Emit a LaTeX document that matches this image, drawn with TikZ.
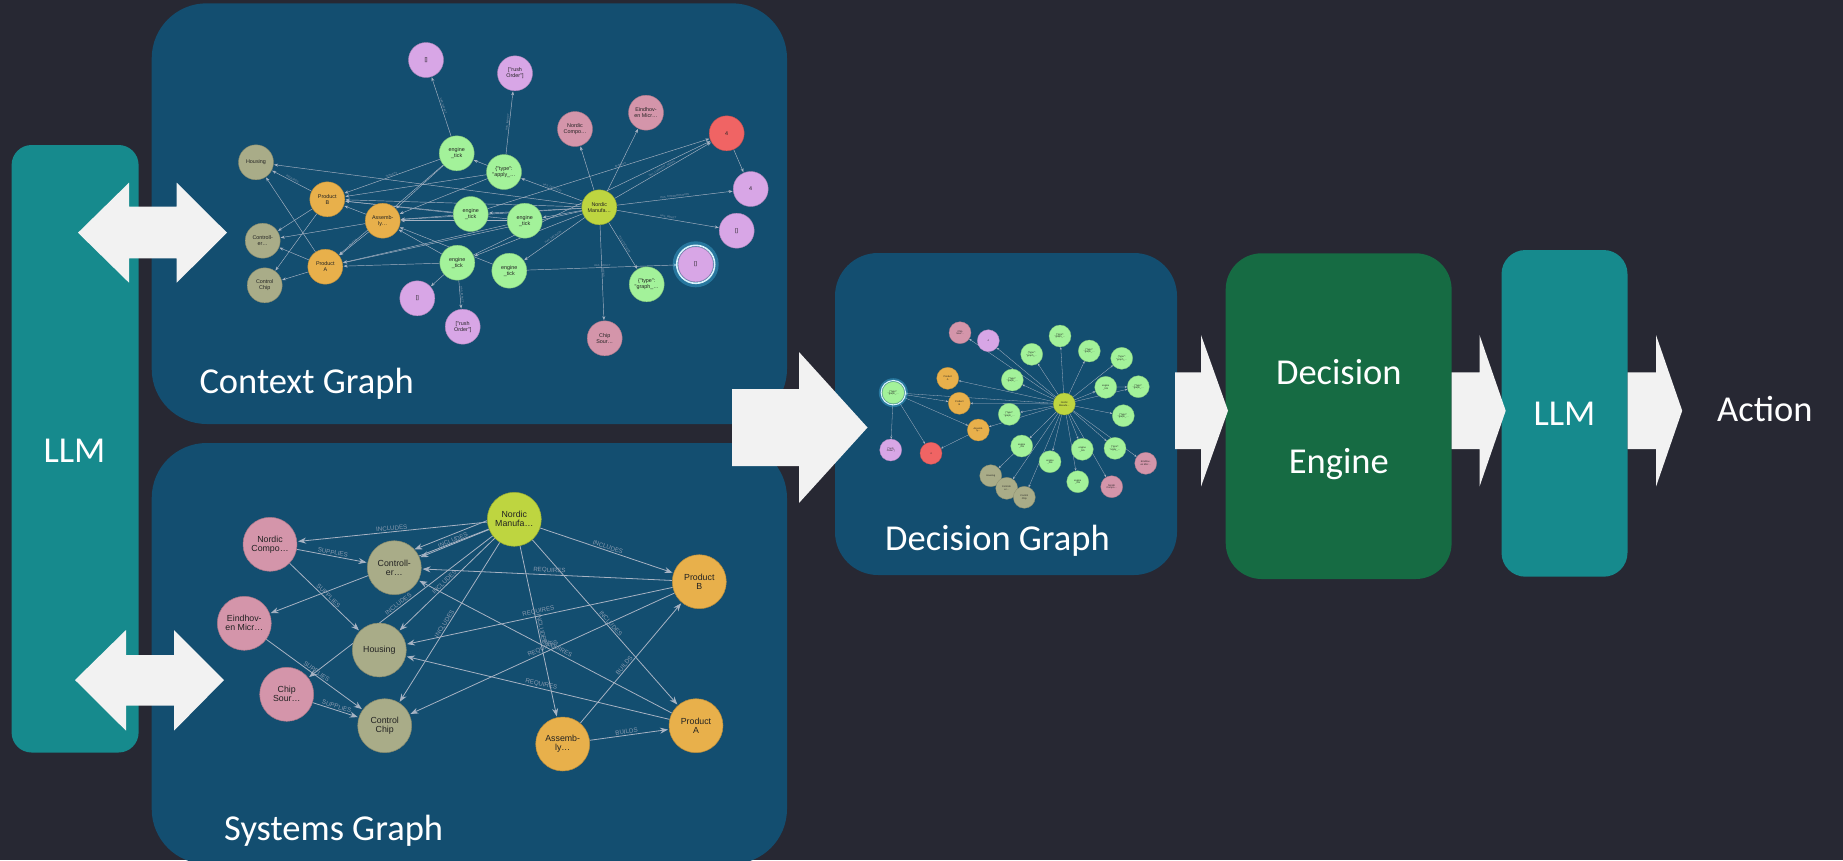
\documentclass[tikz,border=0pt]{standalone}
\usepackage{fontspec}
\setmainfont{Carlito}
\newfontfamily\nodefont{Liberation Sans}
\usetikzlibrary{arrows.meta}
\definecolor{bgc}{HTML}{272833}
\definecolor{panelc}{HTML}{134E70}
\definecolor{tealc}{HTML}{168A8D}
\definecolor{degreen}{HTML}{166B43}
\definecolor{arrowc}{HTML}{F2F2F2}
\definecolor{edgec}{HTML}{A7B3C3}
\definecolor{labc}{HTML}{8A9BB0}
\definecolor{cgreen}{HTML}{A3F29A}
\definecolor{cpurple}{HTML}{D8A6E6}
\definecolor{cpink}{HTML}{D495AA}
\definecolor{colive}{HTML}{A9AC88}
\definecolor{corange}{HTML}{E8B04B}
\definecolor{cyellow}{HTML}{BED540}
\definecolor{cred}{HTML}{F06464}
\definecolor{nodetext}{HTML}{222222}
\pgfdeclarelayer{bg}
\pgfdeclarelayer{edges}
\pgfsetlayers{bg,edges,main}
\begin{document}
\begin{tikzpicture}[x=1pt,y=-1pt,
  cn/.style={circle, minimum size=35pt, inner sep=0pt, align=center,
    font=\nodefont\fontsize{5.4}{5.8}\selectfont, text=nodetext,
    fill=#1, draw=#1!80!black, line width=0.4pt},
  sn/.style={circle, minimum size=54pt, inner sep=0pt, align=center,
    font=\nodefont\fontsize{8.8}{9}\selectfont, text=nodetext,
    fill=#1, draw=#1!80!black, line width=0.5pt},
  dn/.style={circle, minimum size=22pt, inner sep=0pt, align=center,
    font=\nodefont\fontsize{2.4}{2.6}\selectfont, text=nodetext,
    fill=#1, draw=#1!80!black, line width=0.3pt},
  ce/.style={draw=edgec, line width=0.45pt, -{Stealth[length=4pt,width=3pt]}, shorten >=0.5pt},
  se/.style={draw=edgec, line width=0.8pt, -{Stealth[length=8pt,width=6pt]}, shorten >=1pt},
  de/.style={draw=edgec, line width=0.3pt, -{Stealth[length=2.5pt,width=2pt]}},
  elab/.style={font=\nodefont\fontsize{6.2}{6.2}\selectfont, text=labc, sloped, above, inner sep=1pt},
  clab/.style={font=\nodefont\fontsize{2.6}{2.6}\selectfont, text=labc, sloped, above, inner sep=0.4pt},
  bigtext/.style={font=\fontsize{36.5}{40}\selectfont, text=white, inner sep=0pt},
  blockarrow/.style={fill=arrowc, draw=none}
]
\useasboundingbox (0,0) rectangle (1843,860);
\begin{pgfonlayer}{bg}
\fill[bgc] (0,0) rectangle (1843,860);
\fill[tealc, rounded corners=20pt] (11.6,145) rectangle (138.6,752.5);
\fill[panelc, rounded corners=55pt] (151.7,3.3) rectangle (787,424);
\fill[panelc, rounded corners=55pt] (151.7,443) rectangle (787,864);
\fill[panelc, rounded corners=43pt] (835,253) rectangle (1177,575);
\fill[degreen, rounded corners=36pt] (1225.7,253.3) rectangle (1451.6,579);
\fill[tealc, rounded corners=24pt] (1501.5,250) rectangle (1627.5,576.7);
\end{pgfonlayer}

% ---------------- Context graph nodes ----------------
\node[cn=cpurple] (cTop) at (426,60) {[]};
\node[cn=cpurple] (cRushT) at (515,73.3) {["rush\\Order"]};
\node[cn=colive] (cHous) at (256,162.3) {Housing};
\node[cn=corange] (cPB) at (327.3,199.3) {Product\\B};
\node[cn=corange] (cAsm) at (382.7,220.7) {Assemb-\\ly…};
\node[cn=colive] (cCtrl) at (262.7,240.7) {Controll-\\er…};
\node[cn=corange] (cPA) at (325.3,266.7) {Product\\A};
\node[cn=colive] (cChip) at (264.7,285.3) {Control\\Chip};
\node[cn=cgreen] (cE1) at (456.7,153.3) {engine\\\_tick};
\node[cn=cgreen] (cApply) at (504,172) {\{"type":\\"apply\_…};
\node[cn=cgreen] (cE2) at (470.7,214) {engine\\\_tick};
\node[cn=cgreen] (cE3) at (524.7,220.7) {engine\\\_tick};
\node[cn=cgreen] (cE4) at (457.3,262.7) {engine\\\_tick};
\node[cn=cgreen] (cE5) at (509.3,270.7) {engine\\\_tick};
\node[cn=cpurple] (cEmpB) at (417.3,298.3) {[]};
\node[cn=cpurple] (cRushB) at (462.7,326.7) {["rush\\Order"]};
\node[cn=cpink] (cNC) at (575,129) {Nordic\\Compo…};
\node[cn=cpink] (cEM) at (646,112.7) {Eindhov-\\en Micr…};
\node[cn=cred] (cRed) at (726.7,133.3) {4};
\node[cn=cpurple] (cP4) at (750.7,189) {4};
\node[cn=cpurple] (cEmpR) at (736.7,230.7) {[]};
\fill[cyan!70!white, opacity=0.35] (695.7,264.3) circle (23);
\draw[white!85!cyan, line width=1.6pt] (695.7,264.3) circle (19);
\node[cn=cpurple] (cEmpG) at (695.7,264.3) {[]};
\node[cn=cyellow] (cNM) at (599.3,207.3) {Nordic\\Manufa…};
\node[cn=cgreen] (cGraph) at (646.7,284.3) {\{"type":\\"graph\_…};
\node[cn=cpink] (cCS) at (604.7,338.3) {Chip\\Sour…};

\begin{pgfonlayer}{edges}
\foreach \a/\b in {cPA/cHous, cNM/cHous, cPB/cCtrl, cPB/cChip, cPA/cCtrl, cPA/cChip,
  cAsm/cCtrl, cAsm/cPB, cE1/cAsm, cApply/cE1, cApply/cPB, cApply/cAsm,
  cE2/cPB, cE2/cAsm, cE3/cPB, cE3/cAsm, cE3/cPA, cE4/cPA, cE4/cAsm, cE4/cEmpB,
  cNM/cE4, cE5/cAsm, cNM/cE3, cNM/cE2, cNM/cNC, cNM/cEM, cRed/cP4, cE4/cRed,
  cNM/cPB, cNM/cAsm, cNM/cPA, cE1/cPA}
  \draw[ce] (\a) -- (\b);
\draw[ce] (cPB) -- node[clab]{REQUIRES} (cHous);
\draw[ce] (cAsm) -- node[clab]{BUILDS} (cPA);
\draw[ce] (cE1) -- node[clab]{TARGETS} (cPB);
\draw[ce] (cE1) -- node[clab]{HAS\_IMPACT} (cTop);
\draw[ce] (cApply) -- node[clab]{HAS\_IMPACT} (cRushT);
\draw[ce] (cE4) -- node[clab]{HAS\_IMPACT} (cRushB);
\draw[ce] (cE2) -- node[clab,pos=.6]{AFFECTS} (cRed);
\draw[ce] (cNM) -- node[clab]{HAS\_DECISION} (cApply);
\draw[ce] (cNM) -- node[clab]{HAS\_DECISION} (cE5);
\draw[ce] (cE5) -- node[clab]{HAS\_IMPACT} (cEmpG);
\draw[ce] (cNM) -- node[clab]{HAS\_CURRENT\_SIGNAL} (cRed);
\draw[ce] (cNM) -- node[clab]{HAS\_INTERPRETATION} (cP4);
\draw[ce] (cNM) -- node[clab]{HAS\_IMPACT} (cEmpR);
\draw[ce] (cNM) -- node[clab]{HAS\_DECISION} (cGraph);
\draw[ce] (cNM) -- node[clab]{OWNS} (cCS);
\end{pgfonlayer}

% ---------------- Systems graph ----------------
\node[sn=cpink] (sNC) at (270,544.3) {Nordic\\Compo…};
\node[sn=colive] (sCtrl) at (394.3,567.7) {Controll-\\er…};
\node[sn=cpink] (sEM) at (244.3,623.3) {Eindhov-\\en Micr…};
\node[sn=colive] (sHous) at (379.3,650) {Housing};
\node[sn=cpink] (sCS) at (286.7,694.3) {Chip\\Sour…};
\node[sn=colive] (sChip) at (384.7,725.7) {Control\\Chip};
\node[sn=cyellow] (sNM) at (514.3,519.3) {Nordic\\Manufa…};
\node[sn=corange] (sPB) at (699.3,581.7) {Product\\B};
\node[sn=corange] (sPA) at (696,725.7) {Product\\A};
\node[sn=corange] (sAsm) at (562.7,744) {Assemb-\\ly…};

\begin{pgfonlayer}{edges}
\draw[se] (sNM) -- node[elab]{INCLUDES} (sNC);
\draw[se] ([yshift=-1.3pt]sNM.west) -- ([yshift=-1.3pt]sCtrl.north east);
\draw[se] (sNM) -- node[elab,pos=.5]{INCLUDES} (sCtrl);
\draw[se] (sNM) -- (sEM);
\draw[se] (sNM) -- node[elab,pos=.5]{INCLUDES} (sHous);
\draw[se] (sNM) -- node[elab,pos=.5]{INCLUDES} (sCS);
\draw[se] (sNM) -- node[elab,pos=.52]{INCLUDES} (sChip);
\draw[se] (sNM) -- node[elab,pos=.5]{INCLUDES} (sPB);
\draw[se] (sNM) -- node[elab,pos=.52]{INCLUDES} (sPA);
\draw[se] (sNM) -- node[elab,pos=.49]{INCLUDES} (sAsm);
\draw[se] (sNC) -- node[elab,pos=.5]{SUPPLIES} (sCtrl);
\draw[se] (sNC) -- node[elab,pos=.52]{SUPPLIES} (sHous);
\draw[se] (sEM) -- node[elab,pos=.5]{SUPPLIES} (sChip);
\draw[se] (sCS) -- node[elab,pos=.5]{SUPPLIES} (sChip);
\draw[se] (sPB) -- node[elab,pos=.49]{REQUIRES} (sCtrl);
\draw[se] (sPB) -- node[elab,pos=.5]{REQUIRES} (sHous);
\draw[se] (sPB) -- node[elab,pos=.49]{REQUIRES} (sChip);
\draw[se] (sPA) -- node[elab,pos=.46]{REQUIRES} (sCtrl);
\draw[se] (sPA) -- node[elab,pos=.49]{REQUIRES} (sHous);
\draw[se] (sAsm) -- node[elab,pos=.46]{BUILDS} (sPB);
\draw[se] (sAsm) -- node[elab,pos=.47]{BUILDS} (sPA);
\end{pgfonlayer}

% ---------------- Decision graph ----------------
\fill[cyan!70!white, opacity=0.35] (893.3,392.7) circle (14.5);
\draw[white!85!cyan, line width=1.1pt] (893.3,392.7) circle (12.2);
\node[dn=cgreen] (dHi) at (893.3,392.7) {\{"type":\\"graph\_…};
\node[dn=cpurple] (dRush) at (890.7,450) {["rush\\Order"]};
\node[dn=cred] (dRed) at (931,453.3) {4};
\node[dn=corange] (dPA) at (947.7,378.3) {Product\\A};
\node[dn=corange] (dPB) at (959.3,403.3) {Product\\B};
\node[dn=corange] (dAsm) at (978.3,430) {Assemb-\\ly…};
\node[dn=cpink] (dCS) at (960,332.7) {Chip\\Sour…};
\node[dn=cpurple] (dP4) at (988.3,340.7) {4};
\node[dn=cgreen] (dG1) at (1031.7,354.3) {\{"type":\\"graph\_…};
\node[dn=cgreen] (dG2) at (1060,336) {\{"type":\\"graph\_…};
\node[dn=cgreen] (dG3) at (1089.3,351) {\{"type":\\"graph\_…};
\node[dn=cgreen] (dG4) at (1121.7,358.3) {\{"type":\\"graph\_…};
\node[dn=cgreen] (dG5) at (1012.3,380) {\{"type":\\"graph\_…};
\node[dn=cgreen] (dE1) at (1105.7,387.3) {engine\\\_tick};
\node[dn=cgreen] (dG6) at (1138.3,386.7) {\{"type":\\"graph\_…};
\node[dn=cyellow] (dNM) at (1064.3,404) {Nordic\\Manufa…};
\node[dn=cgreen] (dG7) at (1009.3,414.3) {\{"type":\\"graph\_…};
\node[dn=cgreen] (dG8) at (1123.3,415.7) {\{"type":\\"graph\_…};
\node[dn=cgreen] (dE2) at (1021.7,446) {engine\\\_tick};
\node[dn=cgreen] (dE3) at (1082.3,449.3) {engine\\\_tick};
\node[dn=cgreen] (dAp) at (1115,448.3) {\{"type":\\"apply\_…};
\node[dn=cgreen] (dE4) at (1050,461.7) {engine\\\_tick};
\node[dn=cgreen] (dE5) at (1077.7,481.7) {engine\\\_tick};
\node[dn=cpink] (dEM) at (1145.7,463.3) {Eindhov-\\en Micr…};
\node[dn=cpink] (dNC) at (1111.7,486.7) {Nordic\\Compo…};
\node[dn=colive] (dHous) at (990.7,475.7) {Housing};
\node[dn=colive] (dCtrl) at (1006.7,488.3) {Controll-\\er…};
\node[dn=colive] (dChip) at (1024.3,497.3) {Control\\Chip};

\begin{pgfonlayer}{edges}
\foreach \b in {dG1,dG2,dG3,dG4,dG5,dG6,dG7,dG8,dE1,dE2,dE3,dE4,dE5,dAp,dEM,dNC,
  dPA,dPB,dAsm,dP4,dCS,dHi,dCtrl,dChip}
  \draw[de] (dNM) -- (\b);
\foreach \a/\b in {dHi/dPB, dHi/dAsm, dHi/dRush, dHi/dRed, dAsm/dRed, dE2/dHous, dE1/dG6}
  \draw[de] (\a) -- (\b);
\end{pgfonlayer}

% ---------------- Block arrows ----------------
\fill[blockarrow] (78,232.7) -- (129,182.7) -- (129,206.7) -- (176.7,206.7) -- (176.7,182.7)
  -- (227,232.7) -- (176.7,282.7) -- (176.7,258.3) -- (129,258.3) -- (129,282.7) -- cycle;
\fill[blockarrow] (75,680) -- (126,630) -- (126,655) -- (174,655) -- (174,630)
  -- (224,680) -- (174,730.7) -- (174,705.7) -- (126,705.7) -- (126,730.7) -- cycle;
\fill[blockarrow] (732,389) -- (799,389) -- (799,352) -- (867.5,427.5) -- (799,503)
  -- (799,466) -- (732,466) -- cycle;
\fill[blockarrow] (1175,372.3) -- (1201,372.3) -- (1201,335) -- (1228,410.7) -- (1201,486.6)
  -- (1201,449) -- (1175,449) -- cycle;
\fill[blockarrow] (1451.6,372.3) -- (1479.5,372.3) -- (1479.5,335) -- (1505.7,410.7) -- (1479.5,486.6)
  -- (1479.5,449) -- (1451.6,449) -- cycle;
\fill[blockarrow] (1627.5,372.3) -- (1656,372.3) -- (1656,335) -- (1682.2,410.7) -- (1656,486.6)
  -- (1656,449) -- (1627.5,449) -- cycle;

% ---------------- Texts ----------------
\node[bigtext, anchor=base] (tLLM1) at (74.5,462) {LLM};
\node[bigtext, anchor=base west] (tCtx) at (199.3,393) {Context Graph};
\node[bigtext, anchor=base west] (tSys) at (224,840) {Systems Graph};
\node[bigtext, anchor=base west] (tDec) at (885,550) {Decision Graph};
\node[bigtext, anchor=base] (tDE1) at (1338.8,384) {Decision};
\node[bigtext, anchor=base] (tDE2) at (1338.8,473) {Engine};
\node[bigtext, anchor=base] (tLLM2) at (1564.5,425) {LLM};
\node[bigtext, anchor=base west] (tAct) at (1717,421.7) {Action};
\end{tikzpicture}
\end{document}
